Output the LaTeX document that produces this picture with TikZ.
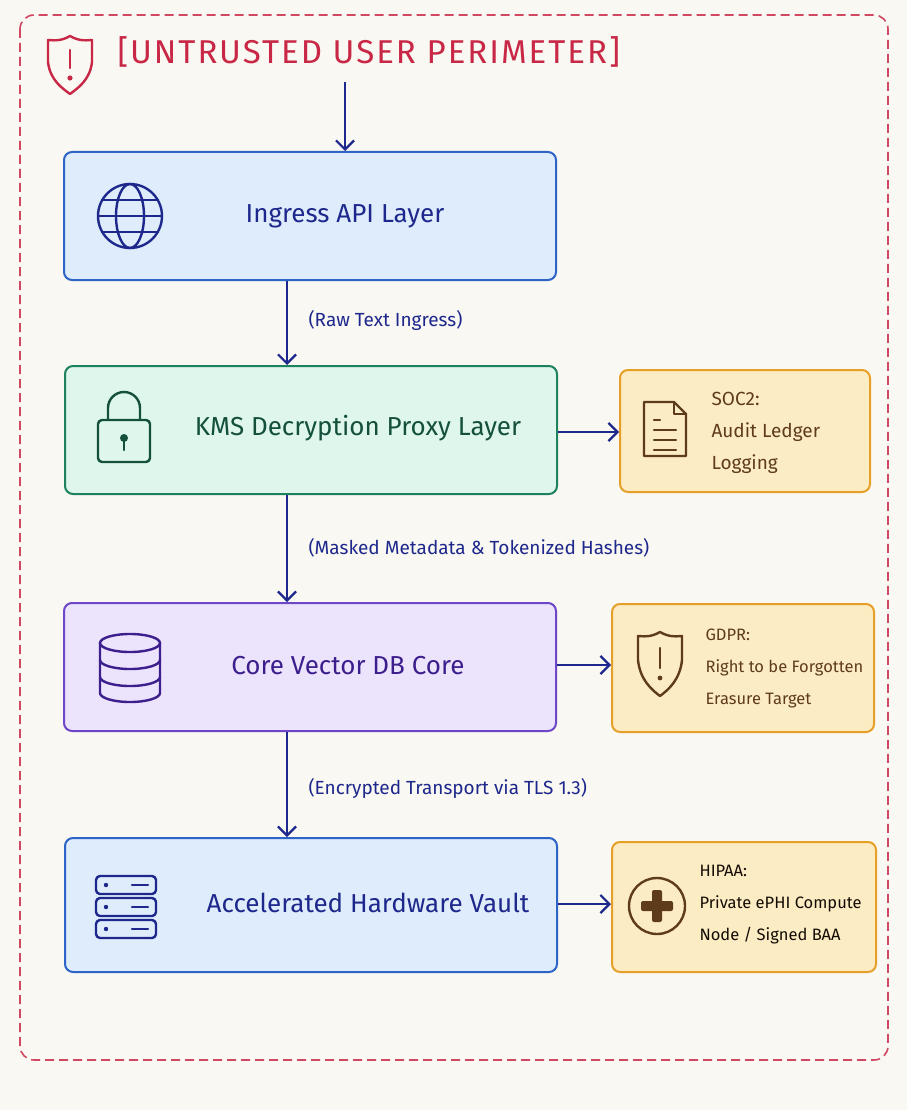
\documentclass[tikz,border=0pt]{standalone}
\usepackage{fontspec}
\setmainfont{Fira Sans}
\usetikzlibrary{arrows.meta,positioning}

\definecolor{paper}{RGB}{250,248,242}
\definecolor{perim}{RGB}{200,40,70}
\definecolor{navy}{RGB}{30,40,140}
\definecolor{blueline}{RGB}{45,100,200}
\definecolor{bluefill}{RGB}{222,236,252}
\definecolor{greenline}{RGB}{30,130,95}
\definecolor{greenfill}{RGB}{222,246,236}
\definecolor{greentext}{RGB}{20,80,60}
\definecolor{purpline}{RGB}{110,70,200}
\definecolor{purpfill}{RGB}{236,228,252}
\definecolor{purptext}{RGB}{60,30,140}
\definecolor{orline}{RGB}{230,160,40}
\definecolor{orfill}{RGB}{252,236,196}
\definecolor{brown}{RGB}{95,60,25}

\begin{document}
\begin{tikzpicture}[x=1pt,y=-1pt,
  layer/.style={draw,line width=2pt,rounded corners=8pt,minimum width=492pt,minimum height=128pt},
  rule/.style={draw=orline,fill=orfill,line width=2pt,rounded corners=8pt,minimum width=256pt,minimum height=126pt},
  flow/.style={draw=navy,line width=2.2pt,-{Straight Barb[length=9pt,width=18pt,line width=2.2pt]}},
  note/.style={text=navy,font=\fontsize{19}{22}\selectfont,anchor=west},
  big/.style={font=\fontsize{26}{30}\selectfont},
  side/.style={text=brown,font=\fontsize{19}{32}\selectfont,align=left,anchor=west},
  icon/.style={line width=2.4pt,line cap=round,line join=round},
]
  % background and perimeter
  \fill[paper] (0,0) rectangle (907,1110);
  \draw[perim!85!white,line width=1.6pt,dash pattern=on 9pt off 5pt,rounded corners=14pt] (20,15) rectangle (888,1060);
  \node[text=perim,font=\fontsize{33}{36}\selectfont\addfontfeatures{LetterSpace=6},anchor=west] (title) at (114,52) {[UNTRUSTED USER PERIMETER]};
  \draw[perim,icon] (70,36) .. controls (80,42) and (88,40) .. (92,40) -- (92,62) .. controls (90,80) and (78,88) .. (70,94)
    .. controls (62,88) and (50,80) .. (48,62) -- (48,40) .. controls (52,40) and (60,42) .. (70,36) -- cycle;
  \draw[perim,icon] (70,50) -- (70,68);
  \fill[perim] (70,78) circle (2.6pt);

  % layers
  \node[layer,draw=blueline,fill=bluefill] (ingress) at (310,216) {};
  \node[layer,draw=greenline,fill=greenfill] (kms) at (311,430) {};
  \node[layer,draw=purpline,fill=purpfill] (core) at (310,667) {};
  \node[layer,draw=blueline,fill=bluefill,minimum height=134pt] (vault) at (311,905) {};
  \node[big,text=navy] (ingresstxt) at (345,216) {Ingress API Layer};
  \node[big,text=greentext] (kmstxt) at (358,428) {KMS Decryption Proxy Layer};
  \node[big,text=purptext] (coretxt) at (348,666) {Core Vector DB Core};
  \node[big,text=navy] (vaulttxt) at (368,903) {Accelerated Hardware Vault};

  % compliance boxes
  \node[rule,minimum width=250pt,minimum height=122pt] (soc) at (745,431) {};
  \node[rule,minimum width=262pt,minimum height=128pt] (gdpr) at (743,668) {};
  \node[rule,minimum width=264pt,minimum height=130pt] (hipaa) at (744,907) {};
  \node[side] (soctxt) at (708,433) {SOC2:\\Audit Ledger\\Logging};
  \node[side,font=\fontsize{16.5}{32}\selectfont] (gdprtxt) at (702,668) {GDPR:\\Right to be Forgotten\\Erasure Target};
  \node[side,font=\fontsize{16.5}{32}\selectfont,text=black!80!brown] (hipaatxt) at (696,905) {HIPAA:\\Private ePHI Compute\\Node / Signed BAA};

  % flow arrows
  \coordinate (entry) at (345,82);
  \draw[flow] (entry) -- (ingress.north -| entry);
  \draw[flow] (ingress.south -| 287,0) -- (kms.north -| 287,0);
  \draw[flow] (kms.south -| 287,0) -- (core.north -| 287,0);
  \draw[flow] (core.south -| 287,0) -- (vault.north -| 287,0);
  \node[note] (raw) at (305,320) {(Raw Text Ingress)};
  \node[note] (masked) at (305,548) {(Masked Metadata \& Tokenized Hashes)};
  \node[note] (tls) at (305,788) {(Encrypted Transport via TLS 1.3)};
  \draw[flow] (kms.east |- 0,432) -- (soc.west |- 0,432);
  \draw[flow] (core.east |- 0,665) -- (gdpr.west |- 0,665);
  \draw[flow] (vault.east |- 0,904) -- (hipaa.west |- 0,904);

  % icons
  \begin{scope}[navy,icon]
    \draw (130,216) circle (32pt);
    \draw (130,216) ellipse (14pt and 32pt);
    \draw (98,216) -- (162,216);
    \draw (102,200) -- (158,200);
    \draw (102,232) -- (158,232);
  \end{scope}
  \begin{scope}[greentext,icon]
    \draw[rounded corners=4pt] (98,420) rectangle (150,462);
    \draw (108,420) -- (108,408) arc (180:0:16pt) -- (140,420);
    \fill (124,438) circle (4pt);
    \draw (124,440) -- (124,450);
  \end{scope}
  \begin{scope}[purptext,icon]
    \draw (100,643) -- (100,693) arc (180:360:30pt and 9pt) -- (160,643);
    \draw (130,643) ellipse (30pt and 9pt);
    \draw (100,660) arc (180:360:30pt and 9pt);
    \draw (100,677) arc (180:360:30pt and 9pt);
  \end{scope}
  \begin{scope}[navy,icon]
    \foreach \yy in {876,898,920} {
      \draw[rounded corners=4pt] (96,\yy) rectangle (156,\yy+18);
      \fill (106,\yy+9) circle (2.2pt);
      \draw (132,\yy+9) -- (148,\yy+9);
    }
  \end{scope}
  \begin{scope}[brown,icon]
    \draw (644,402) -- (674,402) -- (686,414) -- (686,456) -- (644,456) -- cycle;
    \draw (674,402) -- (674,414) -- (686,414);
    \draw (654,420) -- (660,420);
    \draw (654,430) -- (676,430);
    \draw (654,440) -- (676,440);
    \draw (654,450) -- (676,450);
  \end{scope}
  \begin{scope}[brown,icon]
    \draw (660,632) .. controls (670,638) and (678,636) .. (682,636) -- (682,660) .. controls (680,680) and (668,690) .. (660,696)
      .. controls (652,690) and (640,680) .. (638,660) -- (638,636) .. controls (642,636) and (650,638) .. (660,632) -- cycle;
    \draw (660,648) -- (660,668);
    \fill (660,678) circle (2.4pt);
  \end{scope}
  \begin{scope}[brown,icon]
    \draw (657,906) circle (28pt);
    \fill[rounded corners=2pt] (652,890) rectangle (662,922);
    \fill[rounded corners=2pt] (641,901) rectangle (673,911);
  \end{scope}
\end{tikzpicture}
\end{document}
